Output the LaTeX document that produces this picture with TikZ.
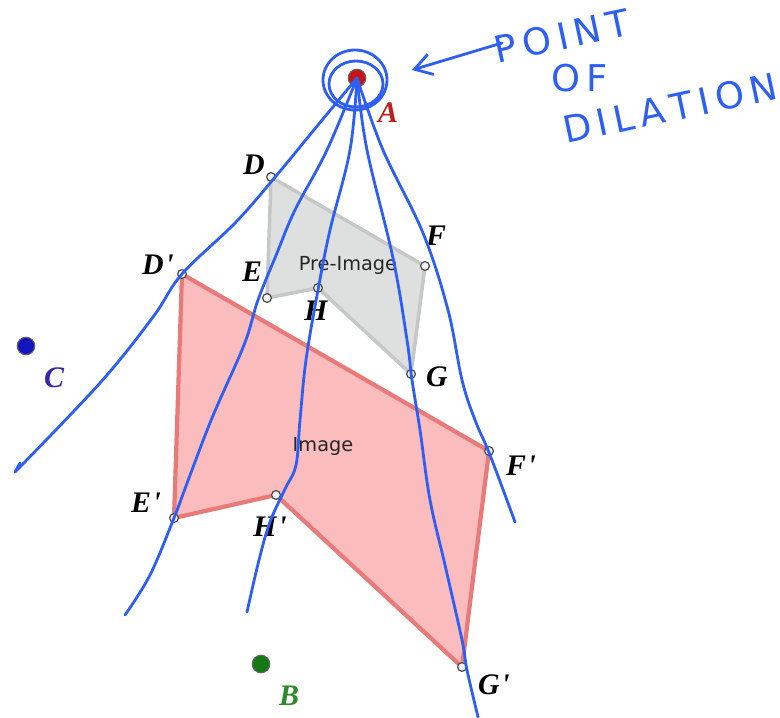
\documentclass[tikz,border=0pt]{standalone}
\usepackage{fontspec}
\newfontfamily\labsans{DejaVu Sans}
\newfontfamily\labserif{Liberation Serif}
\usetikzlibrary{arrows.meta}
\definecolor{ink}{RGB}{45,95,245}
\definecolor{pinkfill}{RGB}{250,188,188}
\definecolor{pinkline}{RGB}{232,122,122}
\definecolor{grayfill}{RGB}{222,224,224}
\definecolor{grayline}{RGB}{198,200,200}
\definecolor{ptred}{RGB}{200,20,20}
\definecolor{ptblue}{RGB}{20,20,190}
\definecolor{ptgreen}{RGB}{20,120,20}
\definecolor{labred}{RGB}{190,30,30}
\definecolor{labblue}{RGB}{50,40,170}
\definecolor{labgreen}{RGB}{40,140,40}
\tikzset{
  vtx/.style={circle,inner sep=0pt,minimum size=5pt,draw=black!70,fill=white!90!gray,line width=0.7pt},
  bigpt/.style={circle,inner sep=0pt,minimum size=10pt,draw=black!60,line width=0.6pt},
  lab/.style={font=\labserif\fontsize{17}{19}\selectfont\bfseries\itshape,inner sep=0pt},
  shapetxt/.style={font=\labsans\fontsize{11}{13}\selectfont,inner sep=0pt,text=black!85},
  pen/.style={draw=ink,line width=1.6pt,line cap=round,line join=round},
  hand/.style={font=\labsans\fontsize{21}{24}\selectfont,text=ink,inner sep=0pt}
}
\begin{document}
\begin{tikzpicture}[x=0.02cm,y=-0.02cm]
\useasboundingbox (0,0) rectangle (780,717);
% vertices
\coordinate (D) at (271,177);
\coordinate (F) at (425,266);
\coordinate (G) at (411,374);
\coordinate (H) at (318,288);
\coordinate (E) at (267,298);
\coordinate (D1) at (182,274);
\coordinate (F1) at (489,451);
\coordinate (G1) at (462,667);
\coordinate (H1) at (276,495);
\coordinate (E1) at (174,518);
% polygons
\filldraw[fill=grayfill,draw=grayline,line width=2pt,line join=round] (D) -- (F) -- (G) -- (H) -- (E) -- cycle;
\filldraw[fill=pinkfill,draw=pinkline,line width=2.4pt,line join=round] (D1) -- (F1) -- (G1) -- (H1) -- (E1) -- cycle;
\node[shapetxt] (pre) at (348,265) {Pre-Image};
\node[shapetxt] (img) at (323,446) {Image};
% vertex markers
\foreach \p in {D,F,G,H,E,D1,F1,G1,H1,E1} \node[vtx] (v\p) at (\p) {};
% points
\node[bigpt,fill=ptred] (A) at (357,78) {};
\node[bigpt,fill=ptblue] (C) at (26,346) {};
\node[bigpt,fill=ptgreen] (B) at (261,664) {};
% labels
\node[lab,text=labred] (lA) at (388,113) {A};
\node[lab,text=labblue] (lC) at (54,378) {C};
\node[lab,text=labgreen] (lB) at (289,696) {B};
\node[lab] (lD) at (254,165) {D};
\node[lab] (lE) at (252,272) {E};
\node[lab] (lH) at (316,311) {H};
\node[lab] (lF) at (436,236) {F};
\node[lab] (lG) at (437,377) {G};
\node[lab] (lD1) at (158,265) {D\kern1pt\textquotesingle};
\node[lab] (lE1) at (146,503) {E\kern1pt\textquotesingle};
\node[lab] (lH1) at (270,527) {H\kern1pt\textquotesingle};
\node[lab] (lF1) at (521,466) {F\kern1pt\textquotesingle};
\node[lab] (lG1) at (494,685) {G\kern1pt\textquotesingle};
% hand-drawn circles around A
\draw[pen] (355,80) ellipse [x radius=32,y radius=30];
\draw[pen] (356,84) ellipse [x radius=27,y radius=23];
% rays
\draw[pen] plot[smooth,tension=0.6] coordinates {(A) (318,125) (276,176) (236,222) (182,274) (153,317) (100,383) (15,472)};
\draw[pen] (15,472) -- (20,463);
\draw[pen] plot[smooth,tension=0.6] coordinates {(A) (327,150) (295,210) (277,253) (258,300) (244,345) (212,418) (186,486) (174,518) (150,575) (125,615)};
\draw[pen] plot[smooth,tension=0.6] coordinates {(A) (350,150) (330,230) (318,290) (306,360) (300,420) (296,465) (285,489) (270,522) (259,560) (247,612)};
\draw[pen] plot[smooth,tension=0.6] coordinates {(A) (367,150) (393,258) (407,340) (412,380) (420,430) (430,500) (445,565) (462,640) (467,670) (478,717)};
\draw[pen] plot[smooth,tension=0.6] coordinates {(A) (383,150) (423,233) (448,310) (462,380) (475,420) (490,455) (515,522)};
% annotation
\node[hand,rotate=12] (t1) at (562,36) {P\,O\,I\,N\,T};
\node[hand] (t2) at (580,78) {O\,F};
\node[hand,rotate=12] (t3) at (670,108) {D\,I\,L\,A\,T\,I\,O\,N};
\coordinate (arS) at (502,43);
\coordinate (arE) at (412,70);
\draw[pen,-{Straight Barb[length=16pt*0.6,width=20pt*0.6,line width=1.6pt]}] (arS) -- (arE);
\end{tikzpicture}
\end{document}
